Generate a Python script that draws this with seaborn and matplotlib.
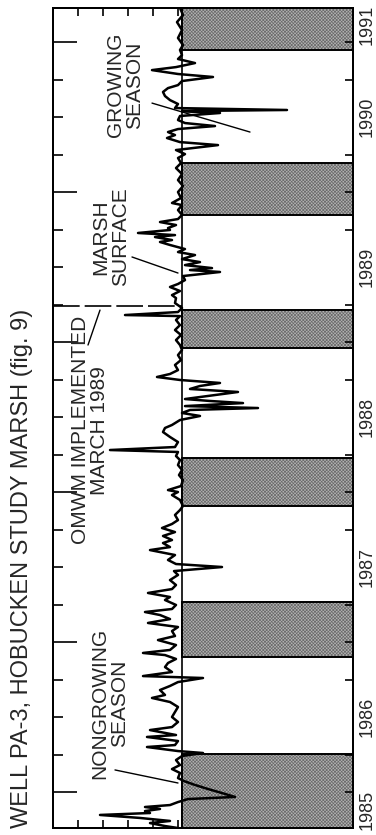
import matplotlib
matplotlib.use("Agg")
import matplotlib.pyplot as plt
from matplotlib.patches import Rectangle
from matplotlib.ticker import FixedLocator, MultipleLocator
import seaborn as sns

# Water level in well PA-3 (decimal year, ft above datum)
t_yr = [
    1985.760, 1985.773, 1985.793, 1985.807, 1985.827, 1985.847, 1985.860, 1985.873, 1985.887, 1985.900,
    1985.913, 1985.933, 1985.953, 1985.967, 1985.993, 1986.020, 1986.047, 1986.073, 1986.093, 1986.127,
    1986.153, 1986.180, 1986.213, 1986.240, 1986.260, 1986.273, 1986.300, 1986.313, 1986.340, 1986.367,
    1986.380, 1986.413, 1986.433, 1986.467, 1986.500, 1986.533, 1986.567, 1986.600, 1986.627, 1986.647,
    1986.680, 1986.707, 1986.733, 1986.760, 1986.773, 1986.800, 1986.833, 1986.860, 1986.887, 1986.913,
    1986.927, 1986.947, 1986.980, 1987.013, 1987.040, 1987.073, 1987.100, 1987.127, 1987.153, 1987.180,
    1987.200, 1987.220, 1987.247, 1987.280, 1987.300, 1987.327, 1987.353, 1987.380, 1987.413, 1987.447,
    1987.473, 1987.500, 1987.520, 1987.547, 1987.580, 1987.613, 1987.633, 1987.660, 1987.680, 1987.707,
    1987.733, 1987.760, 1987.787, 1987.813, 1987.847, 1987.880, 1987.907, 1987.947, 1987.980, 1988.000,
    1988.013, 1988.040, 1988.080, 1988.113, 1988.147, 1988.180, 1988.213, 1988.240, 1988.267, 1988.280,
    1988.300, 1988.333, 1988.367, 1988.400, 1988.427, 1988.447, 1988.480, 1988.507, 1988.527, 1988.547,
    1988.560, 1988.573, 1988.593, 1988.607, 1988.620, 1988.667, 1988.687, 1988.707, 1988.727, 1988.747,
    1988.767, 1988.787, 1988.813, 1988.847, 1988.880, 1988.913, 1988.947, 1988.980, 1989.013, 1989.047,
    1989.080, 1989.113, 1989.147, 1989.173, 1989.180, 1989.200, 1989.227, 1989.260, 1989.293, 1989.313,
    1989.340, 1989.367, 1989.387, 1989.413, 1989.440, 1989.467, 1989.480, 1989.493, 1989.513, 1989.533,
    1989.553, 1989.580, 1989.600, 1989.620, 1989.647, 1989.667, 1989.680, 1989.700, 1989.713, 1989.727,
    1989.747, 1989.760, 1989.780, 1989.800, 1989.820, 1989.847, 1989.880, 1989.913, 1989.927, 1989.960,
    1990.000, 1990.040, 1990.080, 1990.120, 1990.160, 1990.193, 1990.227, 1990.253, 1990.280, 1990.313,
    1990.333, 1990.360, 1990.380, 1990.400, 1990.420, 1990.440, 1990.460, 1990.480, 1990.507, 1990.527,
    1990.540, 1990.547, 1990.560, 1990.587, 1990.613, 1990.640, 1990.667, 1990.693, 1990.713, 1990.740,
    1990.767, 1990.787, 1990.813, 1990.833, 1990.860, 1990.887, 1990.913, 1990.947, 1990.980, 1991.027,
    1991.080, 1991.133, 1991.180, 1991.227,
]
level_ft = [
    1.50, 1.76, 2.06, 1.66, 2.26, 3.06, 2.06, 2.16, 1.86, 2.16,
    1.66, 1.50, 1.30, 0.36, 0.62, 0.90, 1.16, 1.38, 1.50, 1.46,
    1.62, 1.46, 1.54, 1.42, 1.00, 1.50, 2.12, 1.56, 1.50, 2.12,
    1.54, 2.06, 1.62, 1.50, 1.62, 1.56, 1.50, 1.66, 2.02, 1.76,
    1.86, 1.66, 1.50, 1.00, 2.20, 1.62, 1.76, 1.70, 1.54, 1.76,
    2.20, 1.66, 1.54, 1.90, 1.56, 1.62, 1.50, 2.10, 1.66, 1.86,
    2.16, 1.62, 1.54, 1.76, 1.66, 2.10, 1.62, 1.54, 1.66, 1.50,
    1.58, 0.62, 1.54, 1.70, 1.56, 2.06, 1.66, 1.80, 1.62, 1.80,
    1.56, 1.82, 1.62, 1.50, 1.56, 1.46, 1.40, 1.46, 1.62, 1.50,
    1.70, 1.44, 1.40, 1.48, 1.42, 1.50, 1.46, 1.54, 1.50, 2.86,
    1.56, 1.50, 1.66, 1.80, 1.76, 1.62, 1.46, 1.06, 1.42, 1.26,
    -0.10, 1.36, 0.20, 0.86, 1.36, 0.30, 1.26, 1.06, 0.66, 1.46,
    1.92, 1.66, 1.50, 1.56, 1.44, 1.50, 1.42, 1.46, 1.54, 1.44,
    1.56, 1.46, 1.54, 1.46, 2.56, 1.50, 1.42, 1.56, 1.54, 1.62,
    1.46, 1.66, 1.50, 1.36, 1.40, 0.66, 1.26, 0.82, 1.36, 1.06,
    1.42, 1.16, 1.50, 1.36, 1.66, 1.86, 1.62, 1.96, 1.56, 2.30,
    1.66, 1.70, 1.54, 1.86, 1.50, 1.42, 1.50, 1.42, 1.62, 1.44,
    1.50, 1.40, 1.50, 1.42, 1.54, 1.44, 1.50, 1.36, 1.54, 0.70,
    1.46, 1.72, 1.56, 1.70, 1.50, 0.76, 1.36, 1.50, 1.46, 0.66,
    1.42, -0.68, 1.56, 1.50, 1.66, 1.76, 1.80, 1.70, 1.50, 1.42,
    0.80, 1.50, 2.02, 1.54, 1.16, 1.50, 1.42, 1.46, 1.40, 1.50,
    1.42, 1.52, 1.40, 1.46,
]

MARSH_SURFACE = 1.42          # ft above datum
OMWM_DATE = 1989.24           # open marsh water management in place

# Nongrowing seasons (shaded)
nongrow_start = [1985.70, 1986.900, 1987.907, 1988.960, 1989.847, 1990.947]
nongrow_end = [1986.253, 1987.267, 1988.227, 1989.213, 1990.193, 1991.300]

years = [1985, 1986, 1987, 1988, 1989, 1990, 1991]
T0, T1 = 1985.760, 1991.227   # period of record shown
LEV_HI, LEV_LO = 4.0, -2.0

TITLE = "WELL PA-3, HOBUCKEN STUDY MARSH (fig. 9)"

sns.set_theme(style="white")
plt.rcParams["font.family"] = ["Liberation Sans", "DejaVu Sans"]
plt.rcParams["hatch.linewidth"] = 0.5

fig = plt.figure(figsize=(3.76, 8.35), dpi=100)
ax = fig.add_axes([53 / 376, 7 / 835, 300 / 376, 820 / 835])
ax.set_xlim(LEV_HI, LEV_LO)
ax.set_ylim(T0, T1)

# shaded nongrowing seasons below the marsh surface
for s0, s1 in zip(nongrow_start, nongrow_end):
    ax.add_patch(Rectangle((LEV_LO, s0), MARSH_SURFACE - LEV_LO, s1 - s0,
                           facecolor="#b2b2b2", edgecolor="#6a6a6a", hatch="x" * 10,
                           linewidth=0, zorder=1))
    ax.add_patch(Rectangle((LEV_LO, s0), MARSH_SURFACE - LEV_LO, s1 - s0,
                           facecolor="none", edgecolor="black", linewidth=1.4, zorder=1.5))

ax.axvline(MARSH_SURFACE, color="black", lw=1.2, zorder=2)

sns.lineplot(x=level_ft, y=t_yr, sort=False, estimator=None, color="black",
             lw=1.8, ax=ax, zorder=3)

# OMWM implementation date
ax.plot([LEV_HI, MARSH_SURFACE], [OMWM_DATE, OMWM_DATE], color="black",
        lw=1.2, dashes=(16, 3), zorder=3)

# level ticks (unlabelled) on the top and bottom frame
ax.xaxis.set_major_locator(MultipleLocator(0.5))
ax.tick_params(axis="x", which="major", direction="in", length=6, width=1.2,
               top=True, bottom=True, labelbottom=False, labeltop=False, color="black")

# time ticks: long at each January 1 on the left frame
ax.yaxis.set_major_locator(FixedLocator(years))
ax.yaxis.set_minor_locator(MultipleLocator(0.25))
ax.tick_params(axis="y", which="major", direction="in", length=17, width=1.2,
               left=True, right=False, labelleft=False, color="black")
ax.tick_params(axis="y", which="minor", direction="in", length=7, width=1.2,
               left=True, right=False, color="black")

# right frame: quarterly ticks, year labels centred in each year
ax2 = ax.twinx()
ax2.set_ylim(T0, T1)
label_pos = [(max(y, T0) + min(y + 1, T1)) / 2 for y in years]
ax2.yaxis.set_major_locator(FixedLocator(label_pos))
ax2.yaxis.set_minor_locator(MultipleLocator(0.25))
ax2.set_yticklabels([str(y) for y in years], rotation=90, va="center", ha="left")
ax2.tick_params(axis="y", which="major", length=0, pad=4, labelsize=13)
ax2.tick_params(axis="y", which="minor", direction="in", length=6, width=1.2,
                right=True, color="black")

for a in (ax, ax2):
    for sp in a.spines.values():
        sp.set_color("black")
        sp.set_linewidth(1.4)

fs = 15
ax.text(2.56, 1990.713, "GROWING\nSEASON", rotation=90, ha="center", va="center",
        fontsize=fs, linespacing=1.05, multialignment="center")
ax.text(2.84, 1989.70, "MARSH\nSURFACE", rotation=90, ha="center", va="center",
        fontsize=fs, linespacing=1.05, multialignment="center")
ax.text(3.26, 1988.413, "OMWM IMPLEMENTED\nMARCH 1989", rotation=90, ha="center",
        va="center", fontsize=fs, linespacing=1.05, multialignment="center")
ax.text(2.86, 1986.593, "NONGROWING\nSEASON", rotation=90, ha="center", va="center",
        fontsize=fs, linespacing=1.05, multialignment="center")

leader = dict(arrowstyle="-", color="black", lw=1.0, shrinkA=0, shrinkB=0)
ax.annotate("", xy=(0.06, 1990.40), xytext=(2.02, 1990.593), arrowprops=leader)
ax.annotate("", xy=(1.50, 1989.46), xytext=(2.42, 1989.567), arrowprops=leader)
ax.annotate("", xy=(3.30, 1988.98), xytext=(3.06, 1989.213), arrowprops=leader)
ax.annotate("", xy=(1.50, 1986.06), xytext=(2.76, 1986.147), arrowprops=leader)

fig.text(22 / 376, 7 / 835, TITLE, rotation=90, ha="center", va="bottom", fontsize=17)

fig.savefig("out.png", dpi=100)
